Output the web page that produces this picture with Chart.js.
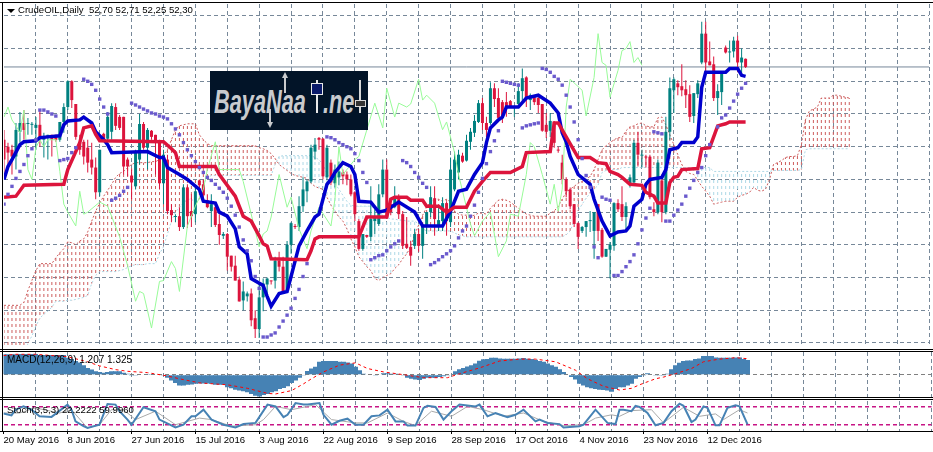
<!DOCTYPE html>
<html>
<head>
<meta charset="utf-8">
<title>CrudeOIL Daily</title>
<script src="https://cdn.jsdelivr.net/npm/chart.js@4/dist/chart.umd.min.js"></script>
<style>
  html, body { margin: 0; padding: 0; background: #fff; }
  #page { position: relative; width: 933px; height: 452px; overflow: hidden; background: #fff; font-family: "Liberation Sans", sans-serif; color: #000; }
  canvas { position: absolute; left: 0; display: block; }
  .rule { position: absolute; background: #000; }
  .label { position: absolute; font-size: 9.6px; line-height: 12px; white-space: pre; color: #000; }
  #tri { position: absolute; left: 7px; top: 9px; width: 0; height: 0; border-left: 4px solid transparent; border-right: 4px solid transparent; border-top: 4px solid #000; }
  #logo { position: absolute; left: 210px; top: 71px; width: 158px; height: 59px; background: #021428; overflow: hidden; }
  #logo .word { position: absolute; font-family: "Liberation Sans", sans-serif; font-style: italic; font-weight: bold; font-size: 34px; line-height: 40px; color: #c9cbce; transform-origin: 0 0; white-space: pre; }
  #logo i { position: absolute; display: block; }
</style>
</head>
<body>
<div id="page">
  <canvas id="mainChart" width="933" height="349" style="top:0"></canvas>
  <canvas id="macdChart" width="933" height="46" style="top:351px"></canvas>
  <canvas id="stochChart" width="933" height="53" style="top:399px"></canvas>

  <div class="rule" style="left:0;top:2px;width:933px;height:1px"></div>
  <div class="rule" style="left:0;top:349px;width:933px;height:1px"></div>
  <div class="rule" style="left:0;top:351px;width:933px;height:1px"></div>
  <div class="rule" style="left:0;top:397px;width:933px;height:1px"></div>
  <div class="rule" style="left:0;top:399px;width:933px;height:1px"></div>
  <div class="rule" style="left:0;top:431px;width:933px;height:1px"></div>
  <div class="rule" style="left:2px;top:2px;width:1px;height:430px"></div>

  <div id="tri"></div>
  <div class="label" style="left:18px;top:4px">CrudeOIL,Daily  52,70 52,71 52,25 52,30</div>
  <div class="label" style="left:7px;top:354px;font-size:10px">MACD(12,26,9) 1.207 1.325</div>
  <div class="label" style="left:7px;top:404px">Stoch(3,5,3) 22.2222 59.9960</div>

  <div id="logo">
    <span class="word" style="left:4px;top:10px;transform:scaleX(.64)">BayaNaa</span>
    <span class="word" style="left:113px;top:10px;transform:scaleX(.64)">.ne</span>
    <i style="left:74px;top:4px;width:2px;height:18px;background:#c9cbce"></i>
    <i style="left:72px;top:1px;width:0;height:0;border-left:3px solid transparent;border-right:3px solid transparent;border-bottom:6px solid #c9cbce"></i>
    <i style="left:59px;top:38px;width:2px;height:16px;background:#c9cbce"></i>
    <i style="left:57px;top:51px;width:0;height:0;border-left:3px solid transparent;border-right:3px solid transparent;border-top:6px solid #c9cbce"></i>
    <i style="left:106px;top:9px;width:2px;height:33px;background:#e8e8e8"></i>
    <i style="left:101px;top:12px;width:10px;height:10px;background:#0a1a6a;border:1px solid #e8e8e8"></i>
    <i style="left:149px;top:9px;width:2px;height:33px;background:#d8d8d8"></i>
    <i style="left:145px;top:29px;width:9px;height:5px;background:#333;border:1px solid #d8d8d8"></i>
  </div>
</div>

<script>
// CrudeOIL daily with Ichimoku, Parabolic SAR, MACD and Stochastic

// ─── Candles, one per daily bar ─────────────────────────────────────────────
const opens = [
  48.74,48.4,48.25,47.92,49.13,49.56,49.51,49.47,49.32,49.47,
  48.74,48.88,48.98,48.98,48.74,49.61,50.34,51.6,50.49,48.59,
  48.64,48.35,47.77,47.38,46.17,49.03,48.79,49.13,50.34,49.86,
  49.86,47.77,46.99,46.46,47.77,49.51,48.35,49.18,48.98,48.59,
  46.61,47.77,45.3,44.96,45,44.47,46.41,45.25,45.1,46.75,
  46.56,45.78,45.25,45.44,44.62,44.04,44.13,43.07,42.58,41.9,
  40.88,41.08,41.22,40.01,39.48,41.03,41.66,41.85,41.85,42.82,
  42.53,41.36,43.6,44.52,44.47,45.49,46.22,46.7,48.16,48.83,
  48.79,46.9,47.62,46.61,46.9,47.14,47.04,46.8,46.17,44.76,
  43.4,44.08,43.99,44.76,44.62,46.07,47.28,45.59,45.44,45.98,
  45.1,43.65,43.5,43.55,44.13,43.55,44.52,45.2,45.88,44.52,
  44.76,45.64,44.71,46.31,47.14,47.96,47.72,48.64,49.08,49.61,
  50.53,49.56,49.56,51.26,50.78,50.58,50.58,50.63,50.29,50.49,
  51.12,51.79,50.68,50.83,50.78,50.49,49.47,49.18,49.61,48.25,
  47.62,46.8,46.31,45.59,44.66,44.28,44.47,44.76,44.28,45.59,
  44.33,43.02,43.36,43.55,45.64,45.59,44.96,46.56,46.65,48.59,
  47.96,47.91,47.91,45.34,45.2,46.75,45.2,49.13,51.16,51.5,
  51.36,51.21,50.97,49.9,50.97,52.52,53.93,52.57,52.43,50.78,
  51.07,53.25,53.01,53.06,53.59,52.52,52.7
];
const highs = [
  49.22,48.59,48.5,49.56,50.1,50.19,49.8,49.61,49.85,50.19,
  49.08,48.98,48.98,48.98,49.61,50.53,51.65,51.65,50.49,48.98,
  48.74,48.74,48.59,47.87,48.25,49.08,50.1,50.53,50.53,49.95,
  49.86,47.87,47.28,48.25,50,49.61,49.32,49.22,48.98,48.74,
  48.25,48.01,45.59,45.1,45.44,46.56,46.56,46.07,46.41,46.8,
  46.8,46.07,46.07,45.54,45.1,44.23,44.18,43.07,43.07,42.05,
  41.81,41.32,41.46,40.4,41.71,41.95,42,41.85,43.02,43.26,
  43.02,43.79,44.71,44.62,45.98,46.9,46.8,48.5,48.83,48.88,
  48.83,48.5,47.77,47.53,47.67,47.28,47.19,47.04,46.22,44.86,
  44.13,44.08,46.46,45.34,46.56,47.77,47.77,45.83,46.46,46.07,
  45.25,44.96,43.79,44.37,44.37,44.62,45.2,46.46,46.46,45.44,
  45.93,45.73,47.87,48.16,48.25,48.11,48.98,49.32,49.95,50.68,
  50.78,49.86,51.55,51.5,51.26,50.68,51.07,50.68,50.34,51.5,
  52.23,51.84,51,50.92,50.92,50.49,50.05,50.05,49.66,48.4,
  48.01,46.9,46.41,45.59,44.71,44.52,44.76,45.25,45.2,45.59,
  44.42,43.4,43.74,45.68,45.83,46.46,45.68,47.04,48.74,49.13,
  48.25,48.01,48.01,45.68,47.77,47.04,49.86,51.79,51.79,51.65,
  52.43,51.65,51.41,51.02,51.65,54.51,54.51,53.54,52.81,51.46,
  51.99,53.35,53.59,53.78,53.83,53.2,52.71
];
const lows = [
  47.04,47.53,47.04,47.28,48.59,48.74,48.98,48.98,48.25,48.4,
  47.87,47.77,47.92,48.64,48.64,49.08,50.19,50.29,48.74,48.01,
  47.53,47.14,47.04,45.83,45.98,48.69,48.69,48.74,49.22,49.22,
  47.04,46.95,45.83,46.31,47.53,48.25,47.28,48.74,47.04,46.31,
  45.59,45.1,44.71,44.71,44.28,44.37,44.42,44.47,44.71,46.22,
  45.83,45.39,44.47,44.47,43.6,43.89,42.34,42.29,41.85,40.83,
  40.4,40.83,39.62,39.04,39.04,40.35,41.08,41.66,41.46,42.29,
  41.22,41.32,43.16,44.37,44.28,45.2,45.68,46.61,47.77,48.25,
  46.8,46.8,46.51,46.41,46.51,46.56,46.51,45.98,44.76,43.31,
  43.31,43.94,43.79,44.13,44.52,45.93,44.86,45.05,45.39,44.86,
  43.4,43.4,42.58,43.4,43.26,42.92,44.13,44.96,44.04,44.28,
  44.28,44.04,44.47,46.22,46.8,47.62,47.67,48.25,48.88,49.56,
  49.22,48.88,49.47,50.34,49.71,49.56,49.86,50.34,49.86,50.34,
  50.53,50.34,50.19,50.44,50.05,49.13,48.83,48.88,48.35,48.11,
  46.56,45.93,45.34,44.47,43.4,44.18,43.99,44.23,42.92,43.79,
  42.97,43,41.95,43.31,45.2,44.76,44.37,46.41,46.51,47.43,
  47.38,47.38,45.83,45,45.1,44.71,45.1,48.74,50.05,50.92,
  50.87,50.29,49.61,49.56,50.78,52.43,52.04,52.38,50.63,49.95,
  50.44,52.96,52.52,52.76,52.04,51.89,52.25
];
const closes = [
  47.77,48.11,47.92,49.22,49.56,49.22,49.56,49.51,49.47,48.83,
  48.83,48.98,48.74,48.74,49.61,50.34,51.6,50.68,48.88,48.25,
  47.92,47.62,47.38,46.17,48.25,48.79,49.86,50.39,49.42,49.32,
  47.43,47.43,46.65,48.16,49.51,48.35,49.22,48.88,48.64,46.61,
  48.01,45.25,45.05,45,44.47,46.41,45,45,46.22,46.51,
  46.02,45.44,45.59,44.57,44.08,44.13,43.02,42.53,41.85,40.83,
  41.32,41.22,39.91,39.48,41.03,41.71,41.95,41.81,42.82,42.53,
  41.32,43.6,44.66,44.47,45.49,46.31,46.7,48.35,48.5,48.74,
  46.95,48.35,46.65,47.28,47.19,46.95,46.8,46.07,45.1,43.4,
  44.13,43.99,44.86,44.96,46.07,47.28,44.96,45.2,45.93,45.1,
  43.55,43.45,43.07,44.13,43.55,44.52,45.2,45.93,44.86,44.81,
  45.64,44.76,47.28,47.77,48.01,47.67,48.69,49.13,49.66,50.53,
  49.56,49.22,51.26,50.73,49.81,49.86,50.29,50.39,50.34,51.12,
  51.75,50.78,50.92,50.58,50.44,49.18,49.13,49.66,48.59,48.21,
  46.8,46.22,45.49,44.62,43.99,44.47,44.76,44.81,45.2,44.28,
  43.02,43.4,43.6,45.64,45.34,44.96,45.49,46.9,48.59,48.01,
  48.01,47.87,45.93,45.2,47.62,45.2,49.13,51.26,51.7,51.31,
  51.16,50.92,49.86,51.02,51.5,53.93,52.52,52.38,50.78,51.12,
  51.99,53.01,53.06,53.59,52.52,52.76,52.3
];

// ─── Ichimoku lines, read at the bars where they change direction ───────────
const tenkanBars = [0,1,2,4,5,8,9,11,14,15,16,19,20,22,23,25,26,27,36,39,40,41,44,46,49,50,53,54,56,58,59,61,62,65,66,67,69,71,72,74,76,78,79,81,82,83,85,87,88,89,92,94,96,99,103,105,110,112,114,116,118,120,121,122,124,125,126,129,131,134,137,139,140,141,142,144,147,148,150,152,154,156,157,158,160,161,162,165,166,167,169,170,173,174,175,176,181,182,184,185,186];
const tenkanVals = [46.8,47.43,47.77,48.5,48.64,48.69,48.84,48.88,48.93,49.47,49.66,49.71,49.85,49.56,49.13,48.74,48.5,48.11,48.16,47.87,47.87,47.38,47.04,46.8,46.31,45.73,45.64,45.2,45,44.38,43.5,43.16,41.95,41.61,41.08,40.6,41.22,41.32,42.05,43.55,44.28,44.96,45.1,46.56,46.8,47.14,47.62,47.43,47.04,45.73,45.69,45.2,45.3,45.69,45.2,44.52,44.52,45.25,46.22,46.32,47.04,47.62,48.6,49.32,49.71,49.85,50.34,50.34,50.78,50.92,50.53,50.05,49.08,48.64,47.92,47.04,46.56,45.83,44.76,44.04,44.23,44.28,44.52,45.49,45.83,46.56,46.8,46.9,47.28,48.25,48.35,48.6,48.6,48.88,51.31,52.04,52.04,52.23,52.23,51.89,51.84];

const kijunBars = [0,3,5,15,16,19,20,22,23,24,40,42,43,44,53,54,58,60,62,64,65,66,67,76,77,78,79,89,91,96,97,98,101,102,105,106,109,111,113,116,118,120,122,127,130,131,137,138,139,141,144,147,149,151,152,154,155,157,160,161,163,164,166,167,168,169,170,174,175,177,179,181,182,186];
const kijunVals = [45.93,45.98,46.51,46.56,47.28,48.6,49.32,49.42,49,48.69,48.64,48.3,48.11,47.43,47.43,47.04,45.98,45,44.76,44.04,43.65,43.55,42.92,42.87,43.31,43.89,43.99,43.99,44.96,44.96,45.83,45.93,45.93,45.78,45.78,45.49,45.49,45.2,45.44,45.44,46.22,46.7,47.14,47.14,47.43,48.11,48.16,49.56,49.56,48.88,47.87,47.87,47.62,47.57,47.19,47.04,46.9,46.56,46.51,46.17,45.98,45.64,45.64,46.65,46.9,46.95,47.28,47.33,48.3,48.35,49.42,49.52,49.61,49.61];

const chikouBars = [0,1,2,3,4,5,6,7,8,9,10,11,13,14,15,16,18,19,20,21,24,26,29,31,33,34,35,37,39,40,42,43,44,46,48,50,51,53,54,57,59,60,64,65,66,67,69,71,72,74,76,77,79,82,83,84,85,88,89,93,95,96,98,99,101,102,104,105,106,108,110,111,113,114,117,118,120,122,124,126,127,129,131,132,133,135,137,138,139,140,141,142,145,146,148,149,150,151,152,154,155,156,157,158,159,160];
const chikouVals = [49.85,50.34,49.71,49.42,49.08,50.19,47.28,46.8,48.35,48.74,48.4,48.74,48.74,47.19,45.59,45.2,44.52,46.22,45.1,45.2,45.69,45.49,43.99,42.58,40.84,41.32,41.22,39.53,41.81,41.85,42.78,42.44,41.32,44.52,45.49,46.32,47.28,48.64,47.28,47.28,47.28,46.7,43.5,44.13,44.28,44.96,47.04,45.44,45.93,44.38,43.41,44.28,45.44,44.52,45.83,48.4,47.04,47.77,47.92,50.53,49.32,51.26,49.85,50.53,50.34,50.49,51.7,50.68,50.92,50.53,49.23,49.61,48.11,47.04,44.62,44.04,44.76,45.2,43.02,43.79,45.1,45,47.04,48.6,48.4,47.04,45.59,46.56,45.25,46.32,50.34,51.7,51.16,49.9,51.79,53.93,52.52,52.38,50.82,52.13,53.1,53.2,53.54,52.52,52.76,52.38];

// Cloud edges run 26 bars past the last candle
const spanA = [
  40.64,40.64,40.64,40.64,40.64,40.79,41.37,41.86,42.34,42.68,
  42.68,42.68,42.68,42.97,43.21,43.41,43.75,43.7,43.6,43.79,
  43.89,44.23,44.76,45.25,45.64,45.98,46.27,46.56,46.9,47.09,
  47.19,47.38,47.53,47.62,47.62,47.62,47.62,47.67,47.67,47.77,
  48.01,48.25,48.74,49.23,49.42,49.47,49.52,49.52,49.52,48.98,
  48.74,48.55,48.45,48.45,48.45,48.45,48.45,48.45,48.45,48.45,
  48.45,48.45,48.45,48.45,48.35,48.3,48.21,48.06,47.82,47.53,
  47.38,47.24,47.09,46.99,46.95,46.9,46.85,46.61,46.46,46.37,
  46.32,45.93,45.54,45.25,44.96,44.76,44.38,43.89,43.5,43.02,
  42.78,42.53,42.34,41.95,41.86,42,42.1,42.19,42.44,42.63,
  42.92,43.16,43.5,44.09,44.57,45.05,45.44,45.69,45.83,45.83,
  45.73,45.83,45.69,45.25,45.1,45.05,45.05,45,45.05,45.15,
  45.15,45.1,45.39,45.59,45.78,45.83,45.78,45.69,45.54,45.39,
  45.25,45.1,45.05,45,45,45,45,45.15,45.25,45.49,
  45.83,46.17,46.32,46.46,46.61,46.7,46.8,46.95,47.28,47.77,
  48.25,48.45,48.6,48.74,48.84,48.84,49.18,49.37,49.42,49.52,
  49.56,49.42,49.37,49.37,49.81,49.85,49.47,48.98,48.5,48.01,
  47.53,47.19,47.09,47.04,46.75,46.46,46.22,45.98,45.59,45.64,
  45.69,45.73,45.73,45.73,45.93,46.02,46.07,46.17,46.41,46.27,
  46.22,46.32,46.8,47.53,47.62,47.72,47.87,47.92,47.92,47.96,
  48.5,49.71,50.15,50.24,50.34,50.78,50.78,50.78,50.92,50.92,
  50.87,50.82,50.78
];
const spanB = [
  37.5,37.5,37.5,37.5,37.5,37.5,38.8,39.14,39.63,40.01,
  40.21,40.35,40.55,40.84,40.84,40.84,40.89,40.89,40.93,40.98,
  41.03,41.13,41.71,42.1,42.29,42.29,42.29,42.29,42.29,42.34,
  42.39,42.49,42.58,42.63,42.63,42.63,42.68,42.68,42.68,43.16,
  43.5,44.13,44.76,45.2,45.44,45.64,45.83,45.83,45.69,45.83,
  46.56,46.9,46.99,46.99,46.99,46.99,46.99,46.99,46.99,46.99,
  46.99,46.99,46.99,46.99,46.99,46.99,46.99,46.99,47.53,47.92,
  47.96,47.96,47.96,47.96,47.96,47.96,47.96,47.96,47.87,47.77,
  47.53,47.09,46.8,46.61,46.32,46.02,45.73,45.54,45.49,45.49,
  45.49,45.49,45.49,45.39,45.2,45.05,44.96,44.86,44.86,44.81,
  44.81,44.76,44.76,44.76,44.62,44.38,44.28,44.28,44.28,44.28,
  44.28,44.28,44.28,44.18,44.09,44.04,43.99,43.99,43.99,43.99,
  43.99,43.99,43.99,43.99,43.99,43.99,43.99,43.99,43.99,43.99,
  43.99,43.99,43.99,43.99,43.99,43.99,43.99,43.99,43.99,43.99,
  43.99,44.09,44.28,44.76,45.25,45.59,45.88,46.12,46.32,46.51,
  47.14,47.24,47.28,47.28,47.28,47.38,47.38,47.38,47.38,47.38,
  47.38,47.38,47.38,47.38,47.38,47.38,47.38,47.38,47.38,47.38,
  47.38,47.38,47.38,47.38,47.38,47.38,47.38,47.38,47.19,47.19,
  47.19,47.19,47.19,47.19,47.19,47.19,47.19,47.19,47.19,47.19,
  47.19,47.19,47.19,47.24,47.24,47.24,47.24,47.24,47.24,47.24,
  47.28,48.25,48.3,48.3,48.3,48.3,48.3,48.3,48.3,48.3,
  48.3,48.3,48.3
];

// ─── Parabolic SAR dots ─────────────────────────────────────────────────────
const sarBars = [0,1,2,3,4,5,6,7,8,9,10,11,12,13,14,15,16,17,18,20,21,22,23,24,25,26,27,28,29,30,31,32,33,34,35,36,37,38,39,40,41,42,43,44,45,46,47,48,49,50,51,52,53,54,55,56,57,58,59,60,61,62,63,64,65,66,67,68,69,70,71,72,73,74,75,76,81,82,83,84,85,86,87,88,89,90,91,92,93,94,95,96,97,98,99,100,101,102,103,104,105,106,107,108,109,110,111,112,113,114,115,116,117,118,119,120,121,122,123,124,125,126,127,128,129,130,131,132,133,134,135,136,137,138,139,140,141,142,143,144,145,146,147,148,149,150,151,152,153,154,155,156,157,158,159,160,161,162,163,164,165,166,167,168,169,170,171,172,173,174,175,176,177,179,180,181,182,183,184,185,186];
const sarVals = [45.59,46.07,46.46,46.85,47.19,47.53,47.96,48.3,48.74,50.19,50.19,50.1,50,49.9,47.72,47.77,47.82,48.11,48.35,51.7,51.6,51.45,51.16,50.73,50.34,50,45.78,45.88,46.02,46.22,46.41,50.53,50.44,50.34,50.24,50.15,50.05,50,49.9,49.85,49.76,49.52,49.27,48.98,48.6,48.25,47.96,47.67,47.38,47.14,46.9,46.75,46.56,46.37,46.17,45.88,45.49,45.05,44.47,43.84,43.31,42.82,42.05,41.47,39.09,39.09,39.19,39.29,39.58,39.87,40.16,40.5,40.98,41.42,42.05,42.68,48.88,48.84,48.74,48.6,48.5,48.4,48.3,48.06,47.72,47.14,46.65,42.87,42.97,43.07,43.11,43.31,43.5,43.65,43.79,47.72,47.62,47.43,47.14,46.9,46.61,46.41,42.63,42.73,42.87,43.02,43.16,43.31,43.55,43.94,44.28,44.52,45,45.54,46.17,46.85,47.57,48.16,48.69,49.18,51.6,51.55,51.5,51.45,51.41,49.32,49.42,49.47,49.52,49.56,52.23,52.18,52.04,51.84,51.7,51.41,50.92,50.34,49.61,48.74,47.82,46.99,46.41,43.5,42.97,45.93,45.83,45.78,42.1,42.1,42.29,42.53,42.78,43.11,43.65,44.33,44.91,45.39,49.13,49.08,49.03,44.76,44.76,45.05,45.3,45.59,45.98,46.37,46.75,47.14,47.38,47.96,48.5,49.37,49.81,49.95,50.29,50.63,50.97,51.26,51.5];

// ─── MACD and Stochastic ────────────────────────────────────────────────────
const macdHist = [
  1.69,1.69,1.69,1.69,1.72,1.72,1.72,1.72,1.72,1.63,
  1.63,1.63,1.63,1.63,1.63,1.63,1.41,1.29,1.13,1.01,
  0.79,0.56,0.42,0.28,0.23,0.17,0.23,0.28,0.28,0.28,
  0.17,0.08,-0.06,-0.06,0,0.03,0.06,0.06,0.03,0,
  -0.06,-0.25,-0.48,-0.68,-0.9,-0.9,-0.84,-0.82,-0.76,-0.73,
  -0.73,-0.73,-0.76,-0.84,-0.84,-0.84,-1.04,-1.13,-1.24,-1.32,
  -1.38,-1.46,-1.6,-1.74,-1.8,-1.69,-1.6,-1.46,-1.38,-1.18,
  -1.1,-0.96,-0.68,-0.48,-0.25,-0.06,0.31,0.51,0.65,1.07,
  1.13,1.13,1.13,1.13,1.07,1.07,1.01,0.93,0.65,0.37,
  0.08,0,0,-0.06,0.03,0.11,0.11,0.08,0.08,0.03,
  -0.06,-0.25,-0.34,-0.39,-0.45,-0.34,-0.25,-0.25,-0.25,-0.2,
  -0.14,-0.06,0,0.28,0.45,0.56,0.68,0.79,0.93,1.15,
  1.27,1.29,1.41,1.41,1.35,1.32,1.32,1.32,1.32,1.35,
  1.38,1.32,1.29,1.24,1.13,1.07,0.93,0.79,0.65,0.45,
  0.23,0,-0.2,-0.39,-0.76,-0.9,-1.04,-1.13,-1.18,-1.24,
  -1.27,-1.32,-1.41,-1.18,-1.04,-1.04,-0.9,-0.76,-0.34,-0.2,
  -0.06,0.11,0,-0.06,-0.06,-0.06,0.08,0.45,0.79,0.98,
  1.13,1.18,1.18,1.29,1.35,1.55,1.55,1.55,1.43,1.41,
  1.41,1.41,1.41,1.43,1.43,1.29,1.21
];
const macdSignalBars = [0,3,8,16,21,24,28,31,36,41,44,49,56,61,66,68,72,75,77,80,84,88,91,95,100,105,111,114,119,124,129,133,138,143,146,150,154,157,159,163,165,168,172,175,179,183,186];
const macdSignalVals = [1.58,1.69,1.69,1.49,1.07,0.73,0.42,0.28,0.17,-0.11,-0.34,-0.68,-0.84,-1.13,-1.55,-1.6,-1.32,-0.76,-0.34,0.23,0.79,0.98,0.51,0.23,0,-0.25,-0.25,0.08,0.56,1.13,1.29,1.29,1.07,0.37,-0.34,-0.96,-1.27,-1.13,-0.84,-0.34,-0.2,0.08,0.51,1.07,1.29,1.41,1.325];

const stochBars = [0,2,3,5,7,9,12,13,16,17,18,20,21,24,26,28,29,31,32,35,38,39,43,45,47,48,50,52,55,58,60,63,66,68,70,71,73,75,76,79,80,82,84,86,88,90,92,94,96,98,100,101,103,105,106,108,110,112,114,118,119,121,123,126,128,130,133,134,136,139,140,144,145,148,151,153,154,155,157,158,159,161,163,165,167,169,170,172,173,175,176,178,179,181,183,184,186];
const stochVals = [58,52,71,82,71,49,47,57,88,71,32,16,10,21,90,88,66,38,21,79,66,38,12,21,49,49,71,38,21,12,23,27,88,82,46,54,93,88,88,93,54,21,34,41,21,21,49,52,71,32,32,18,18,77,84,80,38,66,88,82,88,49,60,46,54,71,32,38,27,23,12,16,21,71,27,23,71,71,66,84,80,60,19,27,66,91,84,30,38,82,77,19,19,77,86,82,22.22];
const stochSignalBars = [0,4,8,14,17,21,24,27,30,33,38,43,49,52,57,63,65,68,72,76,78,82,88,91,96,100,103,107,112,116,120,125,130,135,140,145,148,152,154,157,162,165,170,174,178,180,184,186];
const stochSignalVals = [60,60,77,60,71,10,21,71,71,38,66,21,43,38,16,21,38,82,71,82,88,38,27,27,60,32,18,66,49,82,71,49,60,32,18,21,43,54,49,68,71,27,79,49,57,38,71,59.99];

// ─── Axis values ────────────────────────────────────────────────────────────
const gridBars = [0,8,16,24,32,40,48,56,64,72,80,88,96,104,112,120,128,136,144,152,160,168,176,184,192,200,208,216,224,232];
const tickDates = {
  0: '20 May 2016', 16: '8 Jun 2016', 32: '27 Jun 2016', 48: '15 Jul 2016',
  64: '3 Aug 2016', 80: '22 Aug 2016', 96: '9 Sep 2016', 112: '28 Sep 2016',
  128: '17 Oct 2016', 144: '4 Nov 2016', 160: '23 Nov 2016', 176: '12 Dec 2016'
};
const priceGrid = [38.8,40.4,42,43.6,45.2,46.8,48.4,50,51.6,53.2,54.8];
const macdGrid = [0];
const stochLevels = [20,80];
const lastPrice = 52.3;

// Shared look
const GRID = '#778899';
const TEAL = '#008080';
const CRIMSON = '#DC143C';
const FONT = "'Liberation Sans', sans-serif";

Chart.defaults.animation = false;
Chart.defaults.responsive = false;
Chart.defaults.devicePixelRatio = 1;
Chart.defaults.plugins.legend.display = false;
Chart.defaults.plugins.tooltip.enabled = false;

const points = (xs, ys) => xs.map((x, i) => ({ x: x, y: ys[i] }));

// Vertical dashes for the cloud, a bar filled with a repeating dash
function hatch(color) {
  const c = document.createElement('canvas');
  c.width = 1;
  c.height = 6;
  const g = c.getContext('2d');
  g.fillStyle = color;
  g.fillRect(0, 0, 1, 3);
  return g.createPattern(c, 'repeat');
}

function xAxis(showDates) {
  return {
    type: 'linear',
    min: 0,
    max: 232,
    offset: false,
    afterBuildTicks: scale => { scale.ticks = gridBars.map(v => ({ value: v })); },
    afterFit: scale => { scale.height = showDates ? 21 : 0; },
    border: { display: false, dash: [4, 3] },
    grid: {
      offset: false,
      color: ctx => (ctx.tick && ctx.tick.value === 0) ? 'rgba(0,0,0,0)' : GRID,
      tickColor: ctx => (ctx.tick && tickDates[ctx.tick.value]) ? '#000' : 'rgba(0,0,0,0)',
      drawTicks: showDates,
      tickLength: 3
    },
    ticks: {
      display: showDates,
      autoSkip: false,
      maxRotation: 0,
      minRotation: 0,
      align: 'start',
      padding: 1,
      color: '#000',
      font: { family: FONT, size: 9.6 },
      callback: v => tickDates[v] || ''
    }
  };
}

function yAxis(min, max, ticks, gridOpts) {
  return {
    type: 'linear',
    min: min,
    max: max,
    afterBuildTicks: scale => { scale.ticks = ticks.map(v => ({ value: v })); },
    afterFit: scale => { scale.width = 0; },
    border: { display: false, dash: [4, 3] },
    grid: Object.assign({ color: GRID, drawTicks: false }, gridOpts),
    ticks: { display: false }
  };
}

function lineSet(data, color, width, order, dash) {
  return {
    type: 'line',
    data: data,
    borderColor: color,
    borderWidth: width,
    borderDash: dash || [],
    pointRadius: 0,
    tension: 0,
    fill: false,
    order: order
  };
}

// ─── Main panel ─────────────────────────────────────────────────────────────

const candleBars = opens.map((_, i) => i);
const wickColors = candleBars.map(i => closes[i] >= opens[i] ? TEAL : CRIMSON);
const cloudBars = spanA.map((_, i) => i);

new Chart(document.getElementById('mainChart'), {
  type: 'bar',
  data: {
    datasets: [
      lineSet(points([0, 232], [lastPrice, lastPrice]), GRID, 1, 12),
      {
        data: cloudBars.filter(i => spanA[i] >= spanB[i]).map(i => ({ x: i, y: [spanB[i], spanA[i]] })),
        backgroundColor: hatch('#CD5C5C'),
        barThickness: 1, grouped: false, inflateAmount: 0, order: 11
      },
      {
        data: cloudBars.filter(i => spanA[i] < spanB[i]).map(i => ({ x: i, y: [spanA[i], spanB[i]] })),
        backgroundColor: hatch('#ADD8E6'),
        barThickness: 1, grouped: false, inflateAmount: 0, order: 11
      },
      lineSet(points(cloudBars, spanA), '#CD5C5C', 1, 10, [2, 2]),
      lineSet(points(cloudBars, spanB), '#ADD8E6', 1, 10, [2, 2]),
      {
        data: candleBars.map(i => ({ x: i, y: [lows[i], highs[i]] })),
        backgroundColor: wickColors,
        barThickness: 1, grouped: false, inflateAmount: 0, order: 8
      },
      {
        data: candleBars.map(i => ({ x: i, y: [opens[i], closes[i]] })),
        backgroundColor: wickColors,
        barThickness: 3, grouped: false, inflateAmount: 0, minBarLength: 1, order: 7
      },
      lineSet(points(chikouBars, chikouVals), '#98FB98', 1, 6),
      lineSet(points(tenkanBars, tenkanVals), '#0000CD', 3.5, 4),
      lineSet(points(kijunBars, kijunVals), CRIMSON, 3.5, 3),
      {
        type: 'line',
        data: points(sarBars, sarVals),
        showLine: false,
        pointStyle: 'rect',
        pointRadius: 2.4,
        pointBorderWidth: 0,
        pointBackgroundColor: '#6A5ACD',
        order: 1
      }
    ]
  },
  options: {
    layout: { padding: { left: 3.5, right: 1.5, top: 3, bottom: 2 } },
    scales: {
      x: xAxis(false),
      y: yAxis(38.7, 55.38, priceGrid)
    }
  }
});

// ─── MACD panel ─────────────────────────────────────────────────────────────

new Chart(document.getElementById('macdChart'), {
  type: 'bar',
  data: {
    datasets: [
      {
        data: macdHist.map((v, i) => ({ x: i, y: v })),
        backgroundColor: '#4682B4',
        barThickness: 5, grouped: false, inflateAmount: 0, order: 2
      },
      lineSet(points(macdSignalBars, macdSignalVals), '#FF0000', 1, 1, [3, 3])
    ]
  },
  options: {
    layout: { padding: { left: 3.5, right: 1.5, top: 1, bottom: 0 } },
    scales: {
      x: xAxis(false),
      y: yAxis(-1.85, 1.88, macdGrid, { color: '#808080' })
    }
  }
});

// ─── Stochastic panel ───────────────────────────────────────────────────────

new Chart(document.getElementById('stochChart'), {
  type: 'line',
  data: {
    datasets: [
      lineSet(points(stochSignalBars, stochSignalVals), '#A9A9A9', 1, 2),
      lineSet(points(stochBars, stochVals), '#4682B4', 2, 1)
    ]
  },
  options: {
    layout: { padding: { left: 3.5, right: 1.5, top: 2, bottom: 0 } },
    scales: {
      x: xAxis(true),
      y: yAxis(0, 100, stochLevels, { color: '#C71585', lineWidth: 1.5 })
    }
  }
});
</script>
</body>
</html>
